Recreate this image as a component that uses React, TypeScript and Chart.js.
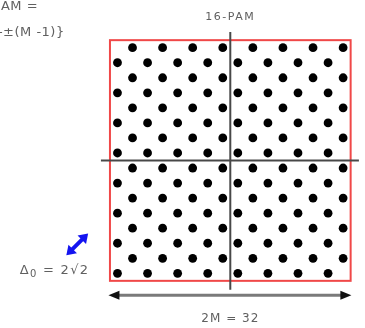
import React, { useEffect, useRef } from "react";
import { Chart, registerables } from "chart.js";

Chart.register(...registerables);

// Constellation levels (odd amplitudes), two interleaved row families
const rowLevelsA = [15, 11, 7, 3, -1, -5, -9, -13];
const rowLevelsB = [13, 9, 5, 1, -3, -7, -11, -15];
const colLevelsA = [-13, -9, -5, -1, 3, 7, 11, 15];
const colLevelsB = [-15, -11, -7, -3, 1, 5, 9, 13];

// Bounding square of the constellation (2M = 32)
const boxHalf = 16;
const titleText = "16-PAM";
const widthText = "2M = 32";
const distText = ["Δ", "0", " = 2√2"];
const alphabetText = ["AM =", "-±(M -1)}"];

function buildPoints() {
  const pts: { x: number; y: number }[] = [];
  rowLevelsA.forEach((y) => colLevelsA.forEach((x) => pts.push({ x, y })));
  rowLevelsB.forEach((y) => colLevelsB.forEach((x) => pts.push({ x, y })));
  return pts;
}

function arrowHead(ctx: CanvasRenderingContext2D, x1: number, y1: number, x2: number, y2: number, len: number, half: number, color: string) {
  const a = Math.atan2(y2 - y1, x2 - x1);
  ctx.save();
  ctx.fillStyle = color;
  ctx.beginPath();
  ctx.moveTo(x2, y2);
  ctx.lineTo(x2 - len * Math.cos(a) + half * Math.sin(a), y2 - len * Math.sin(a) - half * Math.cos(a));
  ctx.lineTo(x2 - len * Math.cos(a) - half * Math.sin(a), y2 - len * Math.sin(a) + half * Math.cos(a));
  ctx.closePath();
  ctx.fill();
  ctx.restore();
}

function doubleArrow(ctx: CanvasRenderingContext2D, x1: number, y1: number, x2: number, y2: number, lineColor: string, headColor: string, lw: number, len: number, half: number) {
  const a = Math.atan2(y2 - y1, x2 - x1);
  ctx.save();
  ctx.strokeStyle = lineColor;
  ctx.lineWidth = lw;
  ctx.beginPath();
  ctx.moveTo(x1 + (len - 1) * Math.cos(a), y1 + (len - 1) * Math.sin(a));
  ctx.lineTo(x2 - (len - 1) * Math.cos(a), y2 - (len - 1) * Math.sin(a));
  ctx.stroke();
  ctx.restore();
  arrowHead(ctx, x1, y1, x2, y2, len, half, headColor);
  arrowHead(ctx, x2, y2, x1, y1, len, half, headColor);
}

const decorPlugin = {
  id: "decor",
  beforeDatasetsDraw(chart: any) {
    const { ctx, scales } = chart;
    const X = (v: number) => scales.x.getPixelForValue(v);
    const Y = (v: number) => scales.y.getPixelForValue(v);
    ctx.save();
    // red bounding square
    ctx.strokeStyle = "#f04848";
    ctx.lineWidth = 2;
    ctx.strokeRect(X(-boxHalf), Y(boxHalf), X(boxHalf) - X(-boxHalf), Y(-boxHalf) - Y(boxHalf));
    // axes
    ctx.strokeStyle = "#484848";
    ctx.lineWidth = 2;
    ctx.beginPath();
    ctx.moveTo(X(0), Y(17.1));
    ctx.lineTo(X(0), Y(-17.2));
    ctx.moveTo(X(-17.2), Y(0));
    ctx.lineTo(X(17.1), Y(0));
    ctx.stroke();
    ctx.restore();
  },
  afterDraw(chart: any) {
    const { ctx, scales } = chart;
    const X = (v: number) => scales.x.getPixelForValue(v);
    const Y = (v: number) => scales.y.getPixelForValue(v);
    ctx.save();
    // width arrow
    doubleArrow(ctx, X(-16.2), Y(-17.9), X(16.1), Y(-17.9), "#7a7a7a", "#111", 3, 11, 4.5);
    // min distance arrow
    doubleArrow(ctx, X(-21.8), Y(-12.6), X(-18.9), Y(-9.7), "#1414f0", "#1414f0", 4, 9, 6);

    ctx.fillStyle = "#606060";
    ctx.textBaseline = "middle";
    ctx.textAlign = "center";
    ctx.font = "11px 'DejaVu Sans'";
    (ctx as any).letterSpacing = "1.5px";
    ctx.fillText(titleText, X(0), Y(19.1));
    ctx.font = "12px 'DejaVu Sans'";
    (ctx as any).letterSpacing = "1px";
    ctx.fillText(widthText, X(0), Y(-21.1));

    // delta label
    ctx.textAlign = "left";
    ctx.font = "13px 'DejaVu Sans'";
    (ctx as any).letterSpacing = "1.3px";
    let x0 = X(-28.0);
    const yb = Y(-14.6);
    ctx.fillText(distText[0], x0, yb);
    x0 += ctx.measureText(distText[0]).width;
    ctx.font = "10px 'DejaVu Sans'";
    ctx.fillText(distText[1], x0, yb + 4);
    x0 += ctx.measureText(distText[1]).width;
    ctx.font = "13px 'DejaVu Sans'";
    ctx.fillText(distText[2], x0, yb);

    // alphabet label (clipped at left edge)
    ctx.font = "13px 'DejaVu Sans'";
    (ctx as any).letterSpacing = "0.5px";
    ctx.fillText(alphabetText[0], X(-30.5), Y(20.4));
    ctx.fillText(alphabetText[1], X(-30.9), Y(17.0));
    ctx.restore();
  },
};

export default function App() {
  const ref = useRef<HTMLCanvasElement | null>(null);
  useEffect(() => {
    if (!ref.current) return;
    const chart = new Chart(ref.current, {
      type: "scatter",
      data: {
        datasets: [
          {
            data: buildPoints(),
            backgroundColor: "#000",
            borderWidth: 0,
            pointRadius: 4.4,
          },
        ],
      },
      options: {
        responsive: false,
        animation: false,
        layout: { padding: 0, autoPadding: false },
        plugins: { legend: { display: false }, tooltip: { enabled: false } },
        scales: {
          x: { type: "linear", display: false, min: -30.62, max: 17.91 },
          y: { type: "linear", display: false, min: -22.27, max: 21.34 },
        },
      },
      plugins: [decorPlugin],
    });
    return () => chart.destroy();
  }, []);
  return (
    <div style={{ position: "absolute", left: 0, top: 0, width: 365, height: 328, background: "#fff" }}>
      <canvas ref={ref} width={365} height={328} />
    </div>
  );
}
